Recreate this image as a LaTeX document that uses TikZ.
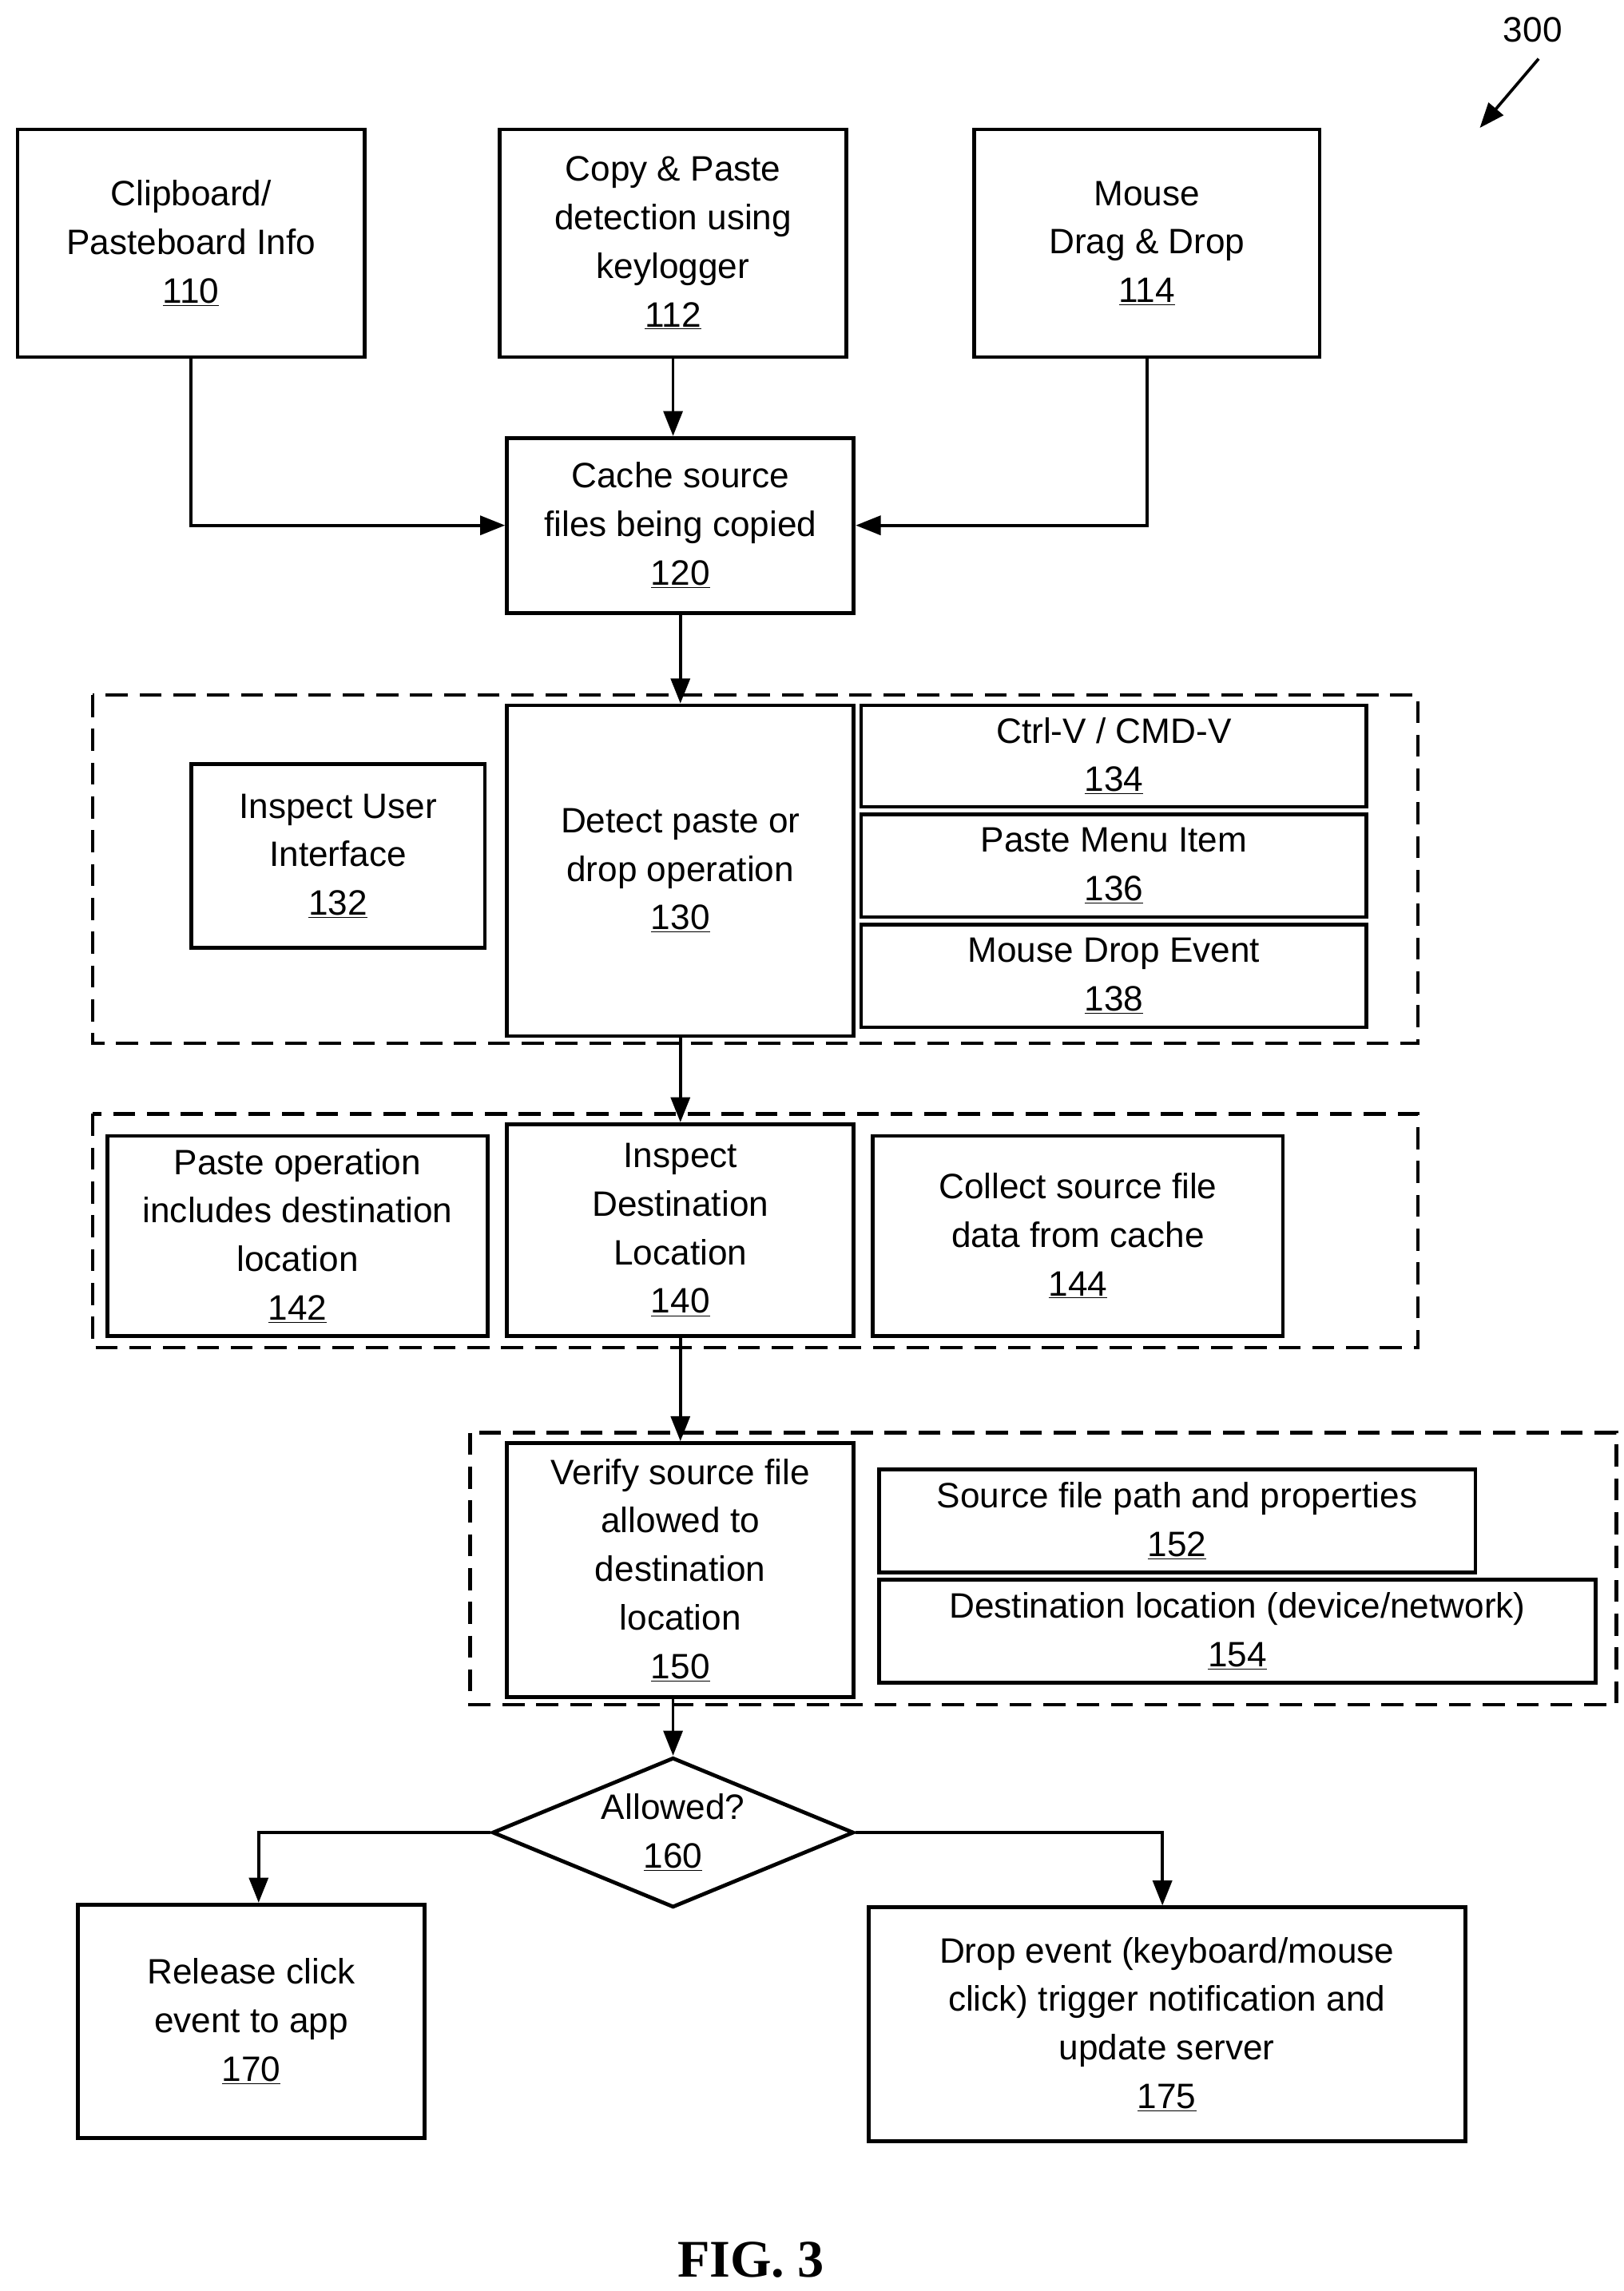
\documentclass[tikz,border=0pt]{standalone}
\usepackage{fontspec}
\setmainfont{Liberation Sans}
\newfontfamily\figfont{Liberation Serif}
\usetikzlibrary{shapes.geometric,arrows.meta}
\newcommand{\mybox}[6]{%
  \node[box,minimum width={#4-#2},minimum height={#5-#3}] (#1) at ({(#2+#4)/2},{(#3+#5)/2}) {#6};}
\newcommand{\dbox}[5]{%
  \draw[dbx] (#2,#3) rectangle (#4,#5) coordinate (#1);}
\begin{document}
\begin{tikzpicture}[x=1pt,y=-1pt,
  box/.style={draw,line width=2.6pt,align=center,inner sep=0pt,
    font=\fontsize{24}{33}\selectfont},
  dbx/.style={line width=2.4pt,dash pattern=on 15pt off 8pt},
  arr/.style={line width=2pt,-{Triangle[length=17pt,width=13pt]}}]
\useasboundingbox (0,0) rectangle (1105,1559);
\mybox{b110}{12}{88}{248}{243}{Clipboard/\\Pasteboard Info\\\underline{110}}
\mybox{b112}{340}{88}{576}{243}{Copy \& Paste\\detection using\\keylogger\\\underline{112}}
\mybox{b114}{663}{88}{898}{243}{Mouse\\Drag \& Drop\\\underline{114}}
\mybox{b120}{345}{298}{581}{417}{Cache source\\files being copied\\\underline{120}}
\dbox{d1}{63}{473}{965}{710}
\mybox{b132}{130}{520}{330}{645}{Inspect User\\Interface\\\underline{132}}
\mybox{b130}{345}{480}{581}{705}{Detect paste or\\drop operation\\\underline{130}}
\mybox{b134}{586}{480}{930}{549}{Ctrl-V / CMD-V\\\underline{134}}
\mybox{b136}{586}{554}{930}{624}{Paste Menu Item\\\underline{136}}
\mybox{b138}{586}{629}{930}{699}{Mouse Drop Event\\\underline{138}}
\dbox{d2}{63}{758}{965}{917}
\mybox{b142}{73}{773}{332}{909}{Paste operation\\includes destination\\location\\\underline{142}}
\mybox{b140}{345}{765}{581}{909}{Inspect\\Destination\\Location\\\underline{140}}
\mybox{b144}{594}{773}{873}{909}{Collect source file\\data from cache\\\underline{144}}
\dbox{d3}{320}{975}{1100}{1160}
\mybox{b150}{345}{982}{581}{1155}{Verify source file\\allowed to\\destination\\location\\\underline{150}}
\mybox{b152}{598}{1000}{1004}{1070}{Source file path and properties\\\underline{152}}
\mybox{b154}{598}{1075}{1086}{1145}{Destination location (device/network)\\\underline{154}}
\node[diamond,draw,line width=2.6pt,minimum width=246pt,minimum height=102pt,aspect=2.4,inner sep=0pt] (d160) at (458,1247) {};
\node[align=center,font=\fontsize{24}{33}\selectfont] (t160) at (458,1247) {Allowed?\\\underline{160}};
\mybox{b170}{53}{1296}{289}{1455}{Release click\\event to app\\\underline{170}}
\mybox{b175}{591}{1298}{997}{1457}{Drop event (keyboard/mouse\\click) trigger notification and\\update server\\\underline{175}}
\node[font=\figfont\bfseries\fontsize{36}{38}\selectfont] (fig) at (511,1538) {FIG. 3};
\node[font=\fontsize{24}{30}\selectfont] (n300) at (1043,20) {300};
\coordinate (a1) at (1047,40); \coordinate (a2) at (1007,87);
\draw[arr] (a1) -- (a2);
\draw[arr] (b110.south) |- (b120.west);
\draw[arr] (b112.south) -- (b120.north-|b112.south);
\draw[arr] (b114.south) |- (b120.east);
\draw[arr] (b120.south) -- (b130.north);
\draw[arr] (b130.south) -- (b140.north);
\draw[arr] (b140.south) -- (b150.north);
\draw[arr] (b150.south-|d160.north) -- (d160.north);
\draw[arr] (d160.west) -| (b170.north-|176,0);
\draw[arr] (d160.east) -| (b175.north-|791,0);
\end{tikzpicture}
\end{document}
